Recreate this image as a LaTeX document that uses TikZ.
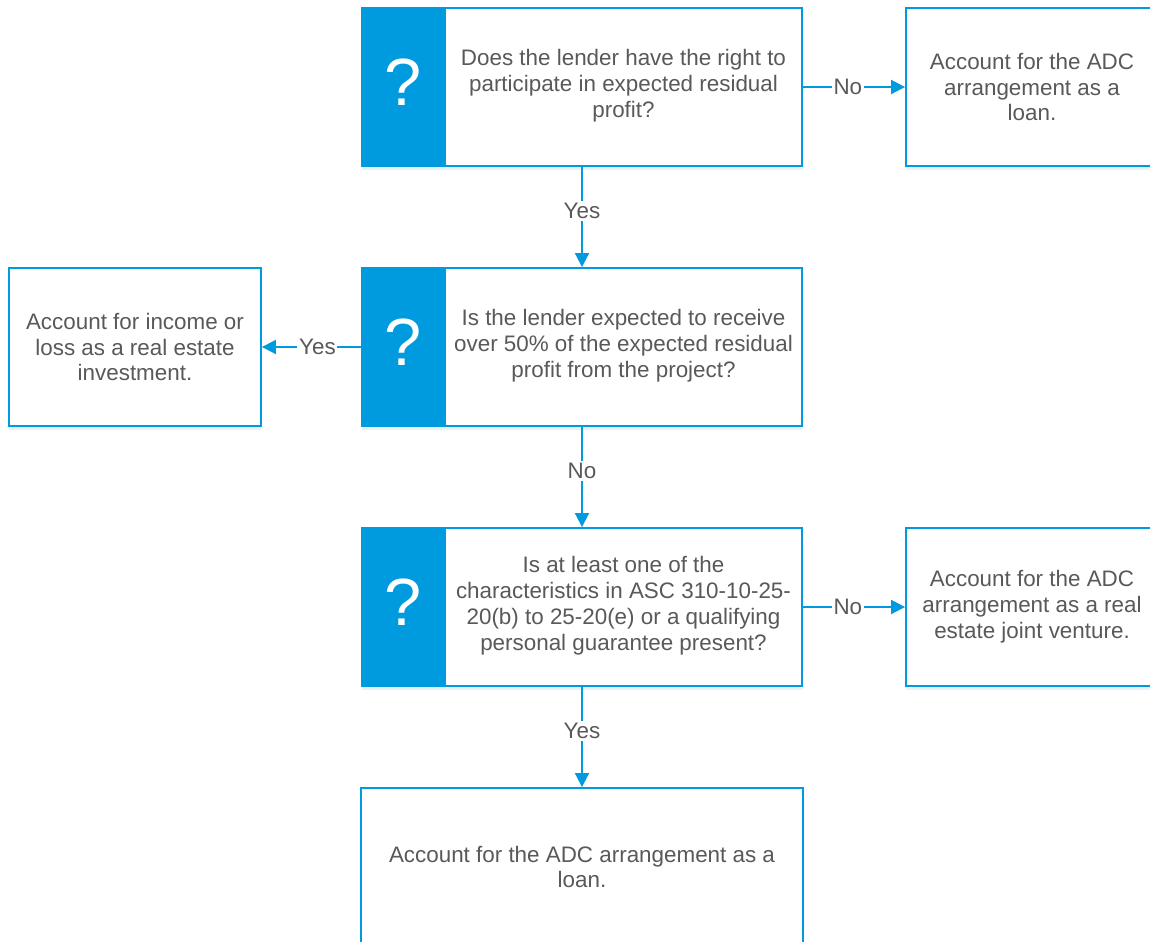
\documentclass[tikz,border=0pt]{standalone}
\usepackage{fontspec}
\setmainfont{Liberation Sans}
\usetikzlibrary{arrows.meta}
\usetikzlibrary{shadows}
\definecolor{adcblue}{RGB}{0,155,222}
\definecolor{adcgray}{RGB}{89,89,89}

\begin{document}
\begin{tikzpicture}[x=0.02cm,y=-0.02cm,
	box/.style={draw=adcblue, line width=1.1pt, fill=white, inner sep=0pt, minimum height=3.16cm,
		drop shadow={shadow xshift=0pt, shadow yshift=-2.5pt, opacity=.12, fill=adcblue!50!gray}},
	strip/.style={draw=adcblue, line width=1.1pt, fill=adcblue, inner sep=0pt, minimum width=1.66cm,
		minimum height=3.16cm},
	qmark/.style={text=white, inner sep=0pt, font=\fontsize{38}{40}\selectfont},
	txt/.style={align=center, text=adcgray, inner sep=0pt, font=\fontsize{12.75}{14.75}\selectfont},
	conn/.style={draw=adcblue, line width=1.1pt, -{Triangle[length=8pt, width=8pt]}},
	lbl/.style={fill=white, text=adcgray, inner sep=1pt, pos=.44, font=\fontsize{12.75}{14.75}\selectfont}]
	\useasboundingbox (0,0) rectangle (1150,941);

	%% questions
	\node[box, minimum width=8.8cm] (q1) at (582,87) {};
	\node[strip, anchor=north west] (q1s) at (q1.north west) {};
	\node[qmark] (q1m) at (403.5,82) {?};
	\node[txt] (q1t) at (623.5,86) {Does the lender have the right to\\participate in expected residual\\profit?};

	\node[box, minimum width=8.8cm] (q2) at (582,347) {};
	\node[strip, anchor=north west] (q2s) at (q2.north west) {};
	\node[qmark] (q2m) at (403.5,342) {?};
	\node[txt] (q2t) at (623.5,346) {Is the lender expected to receive\\over 50\% of the expected residual\\profit from the project?};

	\node[box, minimum width=8.8cm] (q3) at (582,607) {};
	\node[strip, anchor=north west] (q3s) at (q3.north west) {};
	\node[qmark] (q3m) at (403.5,602) {?};
	\node[txt] (q3t) at (623.5,606) {Is at least one of the\\characteristics in ASC 310-10-25-\\20(b) to 25-20(e) or a qualifying\\personal guarantee present?};

	%% outcomes
	\node[box, minimum width=5.04cm, txt] (r1) at (1032,87) {Account for the ADC\\arrangement as a\\loan.};
	\node[box, minimum width=5.04cm, txt] (l2) at (135,347) {Account for income or\\loss as a real estate\\investment.};
	\node[box, minimum width=5.04cm, txt] (r3) at (1032,607) {Account for the ADC\\arrangement as a real\\estate joint venture.};
	\node[box, minimum width=8.86cm, txt] (fin) at (582,867) {Account for the ADC arrangement as a\\loan.};

	%% lines
	\draw[conn] (q1) -- node[lbl] {No} (r1);
	\draw[conn] (q1) -- node[lbl] {Yes} (q2);
	\draw[conn] (q2) -- node[lbl] {Yes} (l2);
	\draw[conn] (q2) -- node[lbl] {No} (q3);
	\draw[conn] (q3) -- node[lbl] {No} (r3);
	\draw[conn] (q3) -- node[lbl] {Yes} (fin);
\end{tikzpicture}
\end{document}
